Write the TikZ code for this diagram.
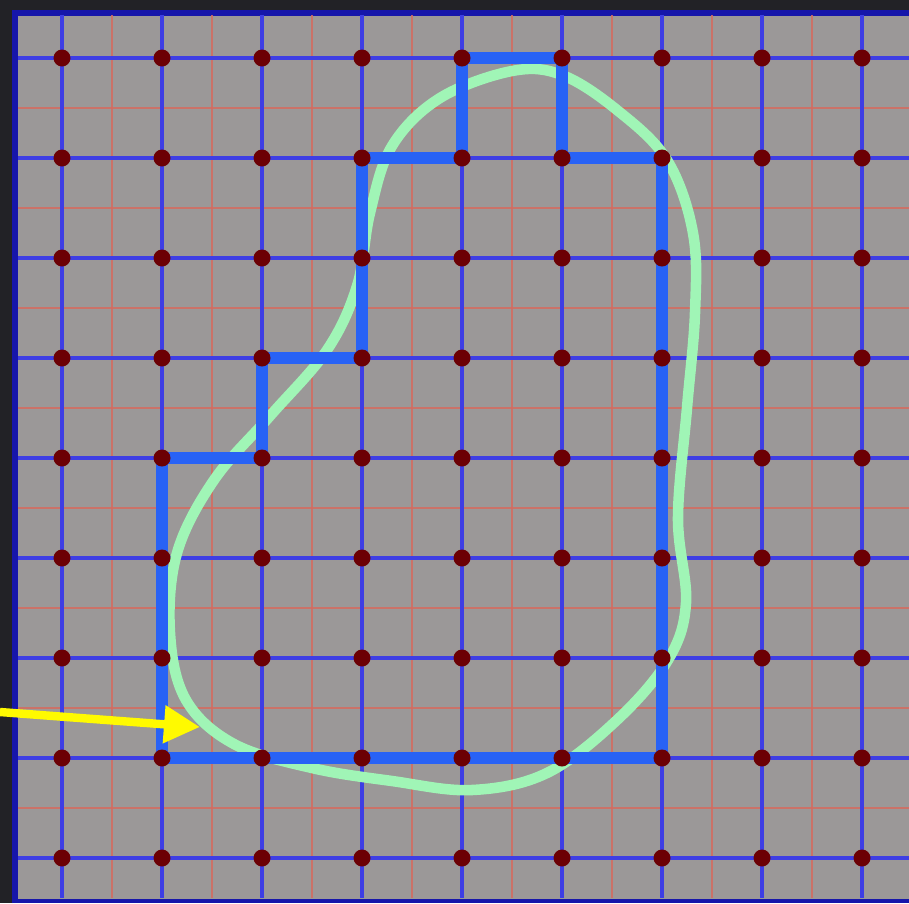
\documentclass[tikz,border=0pt]{standalone}
\usepackage{xcolor}
\usepackage{tikz}
\usetikzlibrary{arrows.meta}

\definecolor{bgGray}{RGB}{155,152,152}
\definecolor{frameDark}{RGB}{34,34,38}
\definecolor{frameBlue}{RGB}{22,22,170}
\definecolor{gridBlue}{RGB}{62,62,228}
\definecolor{gridRed}{RGB}{212,108,96}
\definecolor{pathBlue}{RGB}{40,98,245}
\definecolor{blobGreen}{RGB}{160,245,182}
\definecolor{dotRed}{RGB}{108,0,4}
\definecolor{arrowYellow}{RGB}{255,250,0}

\begin{document}
\begin{tikzpicture}[x=1cm, y=1cm]
    % 1 unit = one cell of the coarse grid (about 100px)
    % dots sit at (i,-j), i,j = 0..8
    \useasboundingbox (-0.62,0.58) rectangle (8.47,-8.45);

    % Background and frame
    \fill[frameDark] (-0.62,0.58) rectangle (8.47,-8.45);
    \fill[bgGray] (-0.44,0.48) rectangle (8.47,-8.42);
    \draw[frameBlue, line width=1.8pt] (-0.47,-8.45) -- (-0.47,0.45) -- (8.47,0.45);
    \draw[frameBlue, line width=1.4pt] (-0.47,-8.43) -- (8.47,-8.43);

    % Fine red grid (half steps)
    \foreach \k in {0,...,7} {
        \draw[gridRed, line width=0.7pt, opacity=0.85] (\k+0.5, 0.43) -- (\k+0.5, -8.40);
        \draw[gridRed, line width=0.7pt, opacity=0.85] (-0.44, -\k-0.5) -- (8.47, -\k-0.5);
    }

    % Coarse blue grid
    \foreach \k in {0,...,8} {
        \draw[gridBlue, line width=1.05pt] (\k, 0.43) -- (\k, -8.40);
        \draw[gridBlue, line width=1.05pt] (-0.44, -\k) -- (8.47, -\k);
    }

    % Smooth contour (green)
    \draw[blobGreen, line width=3pt] plot[smooth cycle, tension=0.6] coordinates {
        (4.50,-0.13) (5.00,-0.17) (5.55,-0.52) (6.05,-1.02) (6.31,-1.75)
        (6.33,-2.55) (6.25,-3.50) (6.16,-4.60) (6.24,-5.45) (6.06,-6.02)
        (5.55,-6.62) (4.85,-7.15) (4.10,-7.32) (3.30,-7.23) (2.50,-7.10)
        (1.72,-6.86) (1.24,-6.42) (1.08,-5.75) (1.15,-4.95) (1.52,-4.22)
        (2.08,-3.58) (2.65,-2.92) (2.95,-2.28) (3.08,-1.55) (3.30,-0.88)
        (3.78,-0.40)
    };

    % Staircase boundary on the grid (blue)
    \draw[pathBlue, line width=3.4pt, line join=miter]
        (1,-7) -- (1,-4) -- (2,-4) -- (2,-3) -- (3,-3) -- (3,-1) -- (4,-1)
        -- (4,0) -- (5,0) -- (5,-1) -- (6,-1) -- (6,-7) -- cycle;

    % Grid points
    \foreach \i in {0,...,8} {
        \foreach \j in {0,...,8} {
            \fill[dotRed] (\i,-\j) circle (0.085);
        }
    }

    % Pointer
    \coordinate (arrowTail) at (-0.62,-6.54);
    \coordinate (arrowTip) at (1.38,-6.69);
    \draw[arrowYellow, line width=2.4pt, -{Triangle[length=0.36cm, width=0.36cm]}] (arrowTail) -- (arrowTip);
\end{tikzpicture}
\end{document}
